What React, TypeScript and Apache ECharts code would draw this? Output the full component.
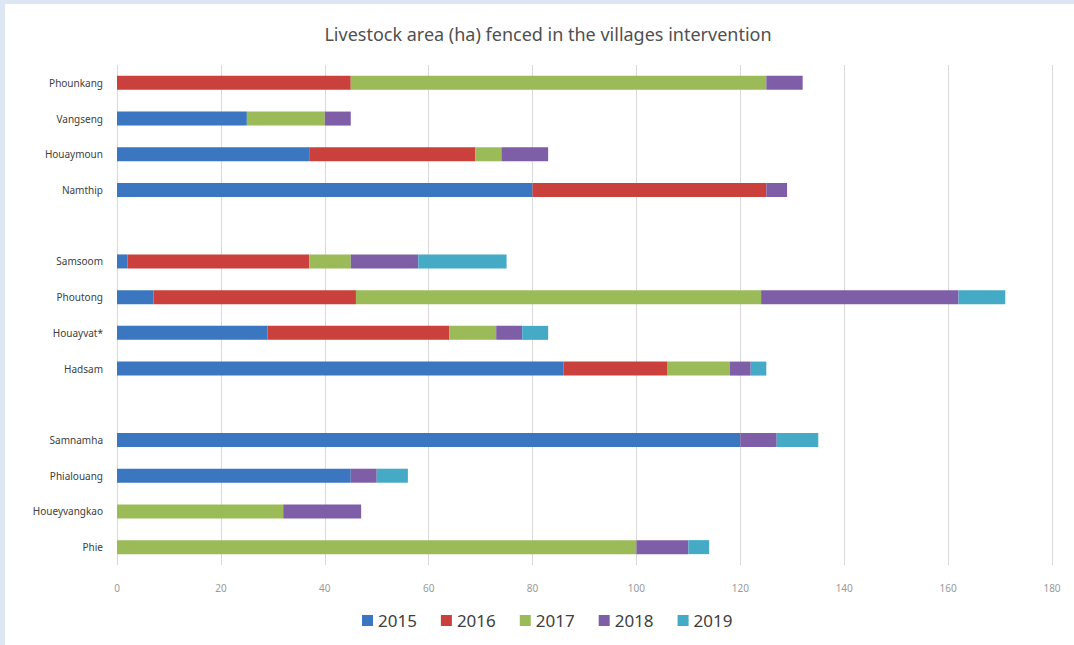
import React, { useEffect, useRef } from "react";
import * as echarts from "echarts";

const categories = [
  "Phounkang", "Vangseng", "Houaymoun", "Namthip", "",
  "Samsoom", "Phoutong", "Houayvat*", "Hadsam", " ",
  "Samnamha", "Phialouang", "Houeyvangkao", "Phie",
];
const years = ["2015", "2016", "2017", "2018", "2019"];
const v2015 = [null, 25, 37, 80, null, 2, 7, 29, 86, null, 120, 45, null, null];
const v2016 = [45, null, 32, 45, null, 35, 39, 35, 20, null, null, null, null, null];
const v2017 = [80, 15, 5, null, null, 8, 78, 9, 12, null, null, null, 32, 100];
const v2018 = [7, 5, 9, 4, null, 13, 38, 5, 4, null, 7, 5, 15, 10];
const v2019 = [null, null, null, null, null, 17, 9, 5, 3, null, 8, 6, null, 4];
const xTicks = [0, 20, 40, 60, 80, 100, 120, 140, 160, 180];

const colors = ["#3b76c0", "#c9403d", "#9bbb59", "#7e5ea7", "#44aac6"];

export default function App() {
  const ref = useRef<HTMLDivElement>(null);
  useEffect(() => {
    if (!ref.current) return;
    const chart = echarts.init(ref.current, null, { renderer: "svg" });
    const values = [v2015, v2016, v2017, v2018, v2019];
    chart.setOption({
      animation: false,
      backgroundColor: "#ffffff",
      graphic: [
        { type: "rect", shape: { x: 0, y: 0, width: 1074, height: 4 }, style: { fill: "#dde7f3" }, z: -10 },
        { type: "rect", shape: { x: 0, y: 0, width: 5, height: 645 }, style: { fill: "#dde7f3" }, z: -10 },
      ],
      title: {
        text: "Livestock area (ha) fenced in the villages intervention",
        left: 543,
        textAlign: "center",
        top: 20,
        textStyle: { fontFamily: "Noto Sans", fontSize: 18, fontWeight: "normal", color: "#505050" },
      },
      legend: {
        data: years,
        bottom: 11,
        left: 357,
        itemWidth: 11,
        itemHeight: 11,
        itemGap: 24,
        icon: "rect",
        textStyle: { fontFamily: "Noto Sans", fontSize: 17, color: "#404040" },
      },
      color: colors,
      grid: { left: 117, right: 22, top: 65, bottom: 80 },
      xAxis: {
        type: "value",
        min: xTicks[0],
        max: xTicks[xTicks.length - 1],
        interval: 20,
        axisLine: { show: false },
        axisTick: { show: false },
        axisLabel: { color: "#999999", fontSize: 10, fontFamily: "Noto Sans", margin: 18 },
        splitLine: { lineStyle: { color: "#d9d9d9", width: 1 } },
      },
      yAxis: {
        type: "category",
        data: categories,
        inverse: true,
        axisLine: { show: false },
        axisTick: { show: false },
        axisLabel: { color: "#404040", fontSize: 10, fontFamily: "Noto Sans", margin: 14 },
      },
      series: years.map((y, i) => ({
        name: y,
        type: "bar",
        stack: "total",
        barWidth: 14,
        data: values[i],
        itemStyle: { color: colors[i] },
      })),
    });
    return () => chart.dispose();
  }, []);
  return (
    <div style={{ position: "absolute", left: 0, top: 0, width: 1074, height: 645 }}>
      <div ref={ref} style={{ width: 1074, height: 645 }} />
    </div>
  );
}
